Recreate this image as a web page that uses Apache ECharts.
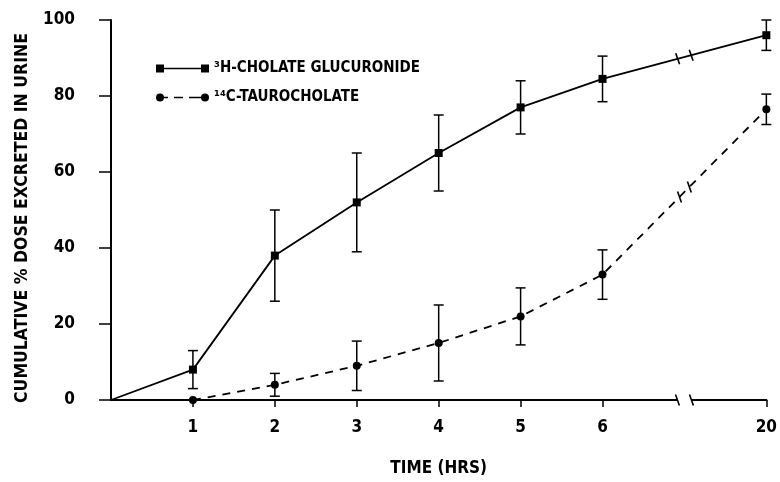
<!DOCTYPE html>
<html lang="en">
<head>
<meta charset="UTF-8">
<title>Cumulative % dose excreted in urine</title>
<script src="https://cdn.jsdelivr.net/npm/echarts@6/dist/echarts.min.js"></script>
<style>html,body{margin:0;padding:0;background:#fff;}</style>
</head>
<body>
<div id="main" style="width:780px;height:482px;"></div>
<script>
// time points (hrs) and tick labels
const hours = [1, 2, 3, 4, 5, 6, 20];
const xTickLabels = ['1', '2', '3', '4', '5', '6', '20'];
const yTicks = [0, 20, 40, 60, 80, 100];

// 3H-cholate glucuronide, mean and error bar half-height
const glucMean = [8, 38, 52, 65, 77, 84.5, 96];
const glucErr = [5, 12, 13, 10, 7, 6, 4];

// 14C-taurocholate
const tauroMean = [0, 4, 9, 15, 22, 33, 76.5];
const tauroErr = [0, 3, 6.5, 10, 7.5, 6.5, 4];

const FONT = "'Liberation Sans Narrow', 'DejaVu Sans Condensed', sans-serif";

// axis slot: 0..6 hrs linear, then a break, 20 hrs sits two slots later
function pos(h) { return h <= 6 ? h : 8; }
const tickPos = hours.map(pos);

let chartDom = document.getElementById('main');
let myChart = echarts.init(chartDom);

function errBars(mean, err) {
  const data = [];
  hours.forEach((h, i) => {
    if (err[i] > 0) data.push([pos(h), mean[i] - err[i], mean[i] + err[i]]);
  });
  return {
    type: 'custom',
    data: data,
    encode: { x: 0, y: [1, 2] },
    silent: true,
    z: 3,
    renderItem: function (params, api) {
      const lo = api.coord([api.value(0), api.value(1)]);
      const hi = api.coord([api.value(0), api.value(2)]);
      const w = 5;
      const st = { stroke: '#000', lineWidth: 1.5 };
      return {
        type: 'group',
        children: [
          { type: 'line', shape: { x1: lo[0], y1: lo[1], x2: hi[0], y2: hi[1] }, style: st },
          { type: 'line', shape: { x1: lo[0] - w, y1: lo[1], x2: lo[0] + w, y2: lo[1] }, style: st },
          { type: 'line', shape: { x1: hi[0] - w, y1: hi[1], x2: hi[0] + w, y2: hi[1] }, style: st }
        ]
      };
    }
  };
}

// "\ \" break marks halfway between 6 and 20 hrs, on both lines and the x axis
const breakSegs = [
  [pos(6), glucMean[5], pos(20), glucMean[6]],
  [pos(6), tauroMean[5], pos(20), tauroMean[6]],
  [pos(6), 0, pos(20), 0]
];

const breakSeries = {
  type: 'custom',
  data: breakSegs,
  encode: { x: [0, 2], y: [1, 3] },
  silent: true,
  z: 4,
  renderItem: function (params, api) {
    const a = api.coord([api.value(0), api.value(1)]);
    const b = api.coord([api.value(2), api.value(3)]);
    const mx = (a[0] + b[0]) / 2, my = (a[1] + b[1]) / 2;
    const dx = b[0] - a[0], dy = b[1] - a[1];
    const L = Math.hypot(dx, dy);
    const ux = dx / L, uy = dy / L;
    const g = 7;
    const sx = 0.35, sy = 1, sl = 5.5;
    const st = { stroke: '#000', lineWidth: 1.6 };
    const ends = [[mx - ux * g, my - uy * g], [mx + ux * g, my + uy * g]];
    const kids = [{
      type: 'line',
      shape: { x1: ends[0][0], y1: ends[0][1], x2: ends[1][0], y2: ends[1][1] },
      style: { stroke: '#fff', lineWidth: 6 }
    }];
    ends.forEach(p => {
      kids.push({
        type: 'line',
        shape: { x1: p[0] - sx * sl, y1: p[1] - sy * sl, x2: p[0] + sx * sl, y2: p[1] + sy * sl },
        style: st
      });
    });
    return { type: 'group', children: kids };
  }
};

const glucIcon = 'path://M0,0H8V3.3H45V0H53V8H45V4.7H8V8H0Z';
const tauroIcon = 'path://M0,4A4,4 0 1,1 8,4A4,4 0 1,1 0,4Z' +
  'M7,3.2H12V4.8H7Z M18,3.2H27V4.8H18Z M33,3.2H46V4.8H33Z' +
  'M45,4A4,4 0 1,1 53,4A4,4 0 1,1 45,4Z';

let option = {
  animation: false,
  backgroundColor: '#fff',
  textStyle: { fontFamily: FONT },
  grid: { left: 111, right: 9, top: 20, bottom: 74, containLabel: false },
  legend: {
    orient: 'vertical',
    left: 151,
    top: 56,
    itemWidth: 53,
    itemHeight: 8,
    itemGap: 14,
    selectedMode: false,
    itemStyle: { color: '#000', borderWidth: 0 },
    textStyle: { fontFamily: FONT, fontWeight: 'bold', fontSize: 15, color: '#000', padding: [0, 0, 0, 0] },
    data: [
      { name: '³H-CHOLATE GLUCURONIDE', icon: glucIcon },
      { name: '¹⁴C-TAUROCHOLATE', icon: tauroIcon }
    ]
  },
  xAxis: {
    type: 'value',
    min: 0,
    max: 8,
    interval: 1,
    name: 'TIME (HRS)',
    nameLocation: 'middle',
    nameGap: 60,
    nameTextStyle: { fontFamily: FONT, fontWeight: 'bold', fontSize: 17, color: '#000' },
    splitLine: { show: false },
    axisLine: { lineStyle: { color: '#000', width: 2 } },
    axisTick: { customValues: tickPos, length: 7, lineStyle: { color: '#000', width: 1.5 } },
    axisLabel: {
      customValues: tickPos,
      margin: 19,
      fontFamily: FONT, fontWeight: 'bold', fontSize: 17, color: '#000',
      formatter: function (v) {
        const i = tickPos.indexOf(v);
        return i >= 0 ? xTickLabels[i] : '';
      }
    }
  },
  yAxis: {
    type: 'value',
    min: yTicks[0],
    max: yTicks[yTicks.length - 1],
    interval: 20,
    name: 'CUMULATIVE % DOSE EXCRETED IN URINE',
    nameLocation: 'middle',
    nameGap: 80,
    nameTextStyle: { fontFamily: FONT, fontWeight: 'bold', fontSize: 17.5, color: '#000', padding: [0, 16, 0, 0] },
    splitLine: { show: false },
    axisLine: { show: true, lineStyle: { color: '#000', width: 2 } },
    axisTick: { show: true, length: 12, lineStyle: { color: '#000', width: 1.5 } },
    axisLabel: { margin: 36, fontFamily: FONT, fontWeight: 'bold', fontSize: 17, color: '#000' }
  },
  series: [
    {
      name: '³H-CHOLATE GLUCURONIDE',
      type: 'line',
      color: '#000',
      z: 5,
      symbol: 'rect',
      symbolSize: 8,
      lineStyle: { color: '#000', width: 1.8, type: 'solid' },
      itemStyle: { color: '#000' },
      data: [{ value: [0, 0], symbol: 'none' }].concat(hours.map((h, i) => [pos(h), glucMean[i]]))
    },
    {
      name: '¹⁴C-TAUROCHOLATE',
      type: 'line',
      color: '#000',
      z: 5,
      symbol: 'circle',
      symbolSize: 8,
      lineStyle: { color: '#000', width: 1.8, type: [8, 7] },
      itemStyle: { color: '#000' },
      data: hours.map((h, i) => [pos(h), tauroMean[i]])
    },
    errBars(glucMean, glucErr),
    errBars(tauroMean, tauroErr),
    breakSeries
  ]
};

option && myChart.setOption(option);
</script>
</body>
</html>
